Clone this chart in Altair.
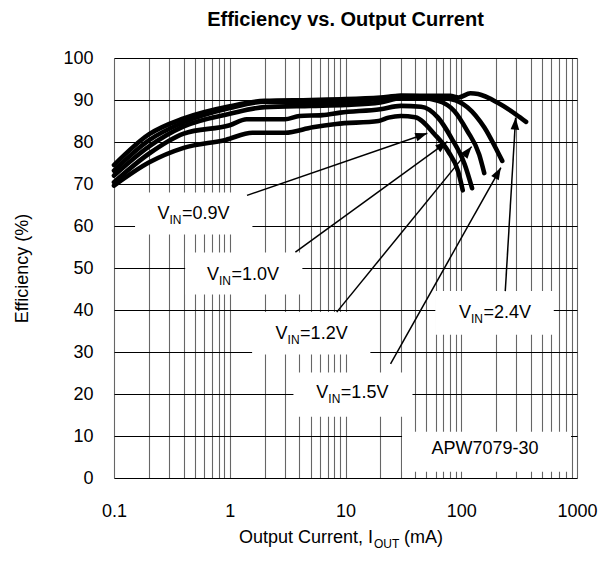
import math
import altair as alt
import pandas as pd

FONT = "Liberation Sans"
W, H = 463, 420

# ---- curve data (Output current mA, efficiency %) ----
i_24 = [0.1, 0.2, 0.4, 1, 2, 5, 10, 20, 30, 50, 80, 95, 120, 140, 205, 296, 363]
e_24 = [74.5, 81.8, 85.6, 88.5, 89.8, 90.0, 90.2, 90.6, 91.0, 91.0, 91.0, 90.6, 91.6, 91.4, 89.4, 86.6, 84.8]

i_15 = [0.1, 0.2, 0.4, 1, 2, 5, 10, 20, 30, 50, 82, 113, 158, 205, 226]
e_15 = [73.2, 80.4, 84.7, 88.1, 89.6, 89.4, 89.6, 90.3, 91.0, 90.8, 90.2, 88.3, 83.5, 77.8, 75.5]

i_12 = [0.1, 0.2, 0.4, 1, 2, 5, 10, 20, 30, 45, 63, 87, 113, 143, 158]
e_12 = [72.0, 78.9, 83.7, 86.7, 88.3, 88.6, 88.8, 89.4, 90.4, 90.4, 89.8, 87.4, 82.6, 77.0, 72.6]

i_10 = [0.1, 0.2, 0.4, 1, 1.4, 3, 4, 6.3, 9, 20, 30, 45, 63, 82, 107, 124]
e_10 = [70.4, 77.2, 82.0, 84.0, 85.4, 85.4, 86.2, 86.4, 87.0, 87.8, 88.6, 88.4, 85.8, 81.0, 74.7, 69.0]

i_09 = [0.1, 0.2, 0.4, 0.92, 1.57, 3, 5.2, 8.3, 19.3, 23.5, 30, 40, 59, 77, 94, 103]
e_09 = [69.6, 75.1, 78.6, 80.5, 82.2, 82.2, 83.5, 84.3, 85.0, 85.8, 86.2, 85.9, 81.8, 77.8, 73.0, 68.5]

series = [("2.4V", i_24, e_24), ("1.5V", i_15, e_15), ("1.2V", i_12, e_12),
          ("1.0V", i_10, e_10), ("0.9V", i_09, e_09)]

# ---- annotation data ----
lab_vin = ["=0.9V", "=1.0V", "=1.2V", "=1.5V", "=2.4V"]
lab_x = [0.237, 0.635, 2.49, 5.6, 95.7]
lab_y = [62.8, 48.4, 34.4, 20.3, 39.4]

box_x1 = [0.152, 0.412, 1.56, 3.55, 59.7, 30.8]
box_x2 = [1.57, 4.24, 16.4, 37.9, 630, 888]
box_y1 = [68.0, 53.7, 39.5, 25.1, 44.5, 11.0]
box_y2 = [58.0, 43.7, 29.4, 14.6, 34.1, 1.5]

arr_x1 = [1.41, 3.69, 8.4, 24.5, 240]
arr_y1 = [67.3, 53.8, 39.5, 27.2, 44.5]
arr_x2 = [50.9, 76.0, 123, 220, 295]
arr_y2 = [82.1, 80.1, 78.9, 73.9, 85.8]

part_label = "APW7079-30"
part_x = [55.2]
part_y = [6.9]

title_text = "Efficiency vs. Output Current"
x_title_main = "Output Current, I"
x_title_sub = "OUT"
x_title_end = "(mA)"
y_title = "Efficiency (%)"

x_ticks = [m * 10 ** k for k in range(-1, 3) for m in range(1, 10)] + [1000]
y_ticks = list(range(0, 101, 10))

# ---- tables ----
curves = pd.DataFrame([
    {"vin": name, "i": xi, "eff": yi, "order": n}
    for name, xs, ys in series for n, (xi, yi) in enumerate(zip(xs, ys))
])
labels = pd.DataFrame({"x": lab_x, "y": lab_y, "rest": lab_vin})
boxes = pd.DataFrame({"x": box_x1, "x2": box_x2, "y": box_y1, "y2": box_y2})


def px(i):
    return W * (math.log10(i) + 1) / 4


def py(v):
    return H * (1 - v / 100)


angles = []
for a, b, c, d in zip(arr_x1, arr_y1, arr_x2, arr_y2):
    dx = px(c) - px(a)
    dy = py(d) - py(b)
    angles.append(math.degrees(math.atan2(dx, -dy)) % 360)
arrows = pd.DataFrame({"x": arr_x1, "y": arr_y1, "x2": arr_x2, "y2": arr_y2, "ang": angles})
part = pd.DataFrame({"x": part_x, "y": part_y, "t": [part_label]})
one = pd.DataFrame({"a": [0]})

xscale = alt.Scale(type="log", domain=[0.1, 1000], nice=False)
yscale = alt.Scale(domain=[0, 100], nice=False)

x_axis = alt.Axis(
    values=x_ticks,
    labelExpr="abs(log(datum.value)/LN10 - round(log(datum.value)/LN10)) < 0.001 ? format(datum.value, '~g') : ''",
    grid=True, gridColor="#666666", gridWidth=1.1, ticks=False, domain=False,
    labelFont=FONT, labelFontSize=18, labelColor="black", labelPadding=24,
    labelOverlap=False, labelFlush=False,
)
y_axis = alt.Axis(
    values=y_ticks, grid=True, gridColor="black", gridWidth=1, ticks=False, domain=False,
    labelFont=FONT, labelFontSize=18, labelColor="black", labelPadding=21, labelFlush=False,
    title=y_title, titleFont=FONT, titleFontSize=18, titleFontWeight="normal",
    titleColor="black", titleX=-92, titleY=H / 2, titleAngle=270, titleAlign="center",
    titleBaseline="middle",
)

box_layer = alt.Chart(boxes).mark_rect(color="white").encode(
    x=alt.X("x:Q", scale=xscale, axis=x_axis, title=None),
    x2="x2:Q",
    y=alt.Y("y:Q", scale=yscale, axis=y_axis),
    y2="y2:Q",
)

curve_layer = alt.Chart(curves).mark_line(
    color="black", strokeWidth=4.6, interpolate="monotone", strokeCap="round", strokeJoin="round"
).encode(
    x=alt.X("i:Q", scale=xscale),
    y=alt.Y("eff:Q", scale=yscale),
    detail="vin:N",
    order="order:Q",
)

arrow_lines = alt.Chart(arrows).mark_rule(color="black", strokeWidth=1.5).encode(
    x=alt.X("x:Q", scale=xscale), y=alt.Y("y:Q", scale=yscale),
    x2="x2:Q", y2="y2:Q",
)

arrow_heads = alt.Chart(arrows).mark_point(
    shape="M0,0L-0.36,1L0.36,1Z", filled=True, color="black", opacity=1, size=576, strokeWidth=0
).encode(
    x=alt.X("x2:Q", scale=xscale), y=alt.Y("y2:Q", scale=yscale),
    angle=alt.Angle("ang:Q", scale=None),
)

txt_v = alt.Chart(labels).mark_text(
    text="V", align="left", baseline="middle", font=FONT, fontSize=18, color="black"
).encode(x=alt.X("x:Q", scale=xscale), y=alt.Y("y:Q", scale=yscale))

txt_in = alt.Chart(labels).mark_text(
    text="IN", align="left", baseline="middle", font=FONT, fontSize=12, color="black", dx=12, dy=6
).encode(x=alt.X("x:Q", scale=xscale), y=alt.Y("y:Q", scale=yscale))

txt_rest = alt.Chart(labels).mark_text(
    align="left", baseline="middle", font=FONT, fontSize=18, color="black", dx=24.5
).encode(x=alt.X("x:Q", scale=xscale), y=alt.Y("y:Q", scale=yscale), text="rest:N")

txt_part = alt.Chart(part).mark_text(
    align="left", baseline="middle", font=FONT, fontSize=18, color="black"
).encode(x=alt.X("x:Q", scale=xscale), y=alt.Y("y:Q", scale=yscale), text="t:N")

# chart title
title_mark = alt.Chart(one).mark_text(
    text=title_text, align="center", baseline="middle", font=FONT, fontSize=20,
    fontWeight="bold", color="black"
).encode(x=alt.value(W / 2), y=alt.value(-38))

# x-axis title with subscript
XT = 259
xt_main = alt.Chart(one).mark_text(
    text=x_title_main, align="right", baseline="middle", font=FONT, fontSize=18, color="black"
).encode(x=alt.value(XT), y=alt.value(H + 60))
xt_sub = alt.Chart(one).mark_text(
    text=x_title_sub, align="left", baseline="middle", font=FONT, fontSize=12, color="black", dy=6
).encode(x=alt.value(XT + 1), y=alt.value(H + 60))
xt_end = alt.Chart(one).mark_text(
    text=x_title_end, align="left", baseline="middle", font=FONT, fontSize=18, color="black"
).encode(x=alt.value(XT + 31), y=alt.value(H + 60))

chart = alt.layer(
    box_layer, curve_layer, arrow_lines, arrow_heads, txt_v, txt_in, txt_rest, txt_part,
    title_mark, xt_main, xt_sub, xt_end,
).properties(
    width=W, height=H,
    autosize=alt.AutoSizeParams(type="none"),
    padding={"left": 106, "top": 50, "right": 24, "bottom": 88},
).configure_view(stroke="black", strokeWidth=1.5).configure(background="white")

chart.save("out.html", embed_options={"renderer": "svg", "actions": False})
